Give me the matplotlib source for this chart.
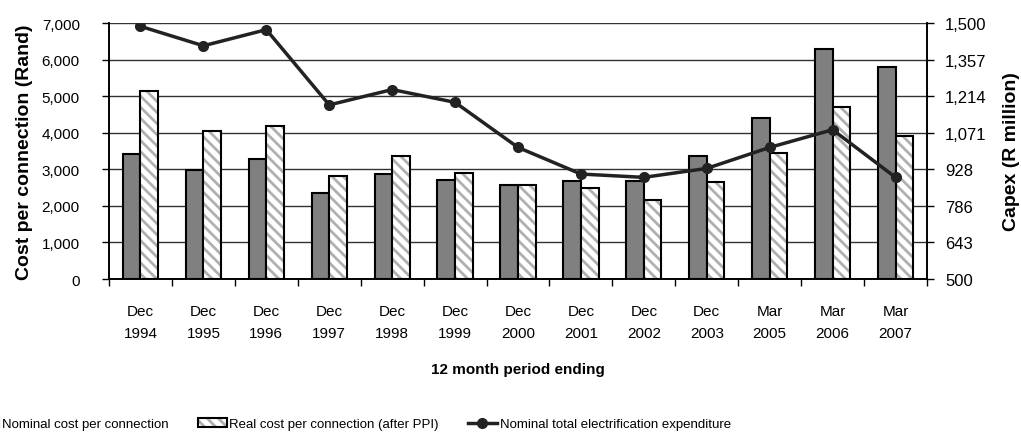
import numpy as np
import matplotlib
matplotlib.use("Agg")
import matplotlib.pyplot as plt
from matplotlib.legend_handler import HandlerTuple

plt.rcParams['font.family'] = ['Liberation Sans', 'DejaVu Sans']
plt.rcParams['hatch.linewidth'] = 2.0

# data
periods = ["Dec\n1994", "Dec\n1995", "Dec\n1996", "Dec\n1997", "Dec\n1998", "Dec\n1999",
           "Dec\n2000", "Dec\n2001", "Dec\n2002", "Dec\n2003", "Mar\n2005", "Mar\n2006", "Mar\n2007"]
nominal_cost = [3430, 2970, 3270, 2360, 2880, 2700, 2570, 2690, 2670, 3360, 4400, 6290, 5800]
real_cost = [5150, 4050, 4180, 2820, 3360, 2910, 2570, 2500, 2160, 2660, 3450, 4700, 3920]
capex = [1487, 1411, 1474, 1180, 1240, 1190, 1014, 910, 897, 932, 1014, 1083, 897]

left_ticks = [0, 1000, 2000, 3000, 4000, 5000, 6000, 7000]
right_ticks = np.linspace(500, 1500, 8)
right_labels = ["500", "643", "786", "928", "1,071", "1,214", "1,357", "1,500"]

W, H = 1021, 435
fig = plt.figure(figsize=(W / 100, H / 100), dpi=100)
ax = fig.add_axes([109 / W, 1 - 280 / H, 818 / W, 256 / H])
ax2 = ax.twinx()

x = np.arange(len(periods))
w = 0.28

# bars
b1 = ax.bar(x - w / 2, nominal_cost, w, color='#808080', edgecolor='black', linewidth=1.5, zorder=3)
b2 = ax.bar(x + w / 2, real_cost, w, color='white', edgecolor='#b0b0b0', linewidth=0,
            hatch='\\\\\\', zorder=3)
b2o = ax.bar(x + w / 2, real_cost, w, color='none', edgecolor='black', linewidth=1.5, zorder=3)

# line on secondary axis
ln, = ax2.plot(x, capex, color='#222222', linewidth=2.5, marker='o', markersize=7, zorder=4)

ax.set_xlim(-0.5, len(periods) - 0.5)
ax.set_ylim(0, 7000)
ax2.set_ylim(500, 1500)

ax.set_yticks(left_ticks)
ax.set_yticklabels([f"{v:,}" for v in left_ticks], fontsize=11)
ax.yaxis.grid(True, color='#333333', linewidth=1)
ax.set_axisbelow(True)
ax.tick_params(axis='y', direction='out', length=5, width=1, pad=16)

ax2.set_yticks(right_ticks)
ax2.set_yticklabels(right_labels, fontsize=12)
ax2.tick_params(axis='y', direction='out', length=5, width=1, pad=8)

# category ticks at boundaries, labels at centres
ax.set_xticks(np.arange(len(periods) + 1) - 0.5)
ax.set_xticklabels([])
ax.set_xticks(x, minor=True)
ax.set_xticklabels(periods, minor=True, fontsize=11, linespacing=1.75)
ax.tick_params(axis='x', which='major', direction='out', length=5, width=1)
ax.tick_params(axis='x', which='minor', length=0, pad=18)

for a in (ax, ax2):
    a.spines['top'].set_visible(False)
    for s in ('left', 'right', 'bottom'):
        a.spines[s].set_linewidth(1.2)

ax.set_ylabel("Cost per connection (Rand)", fontsize=14, fontweight='bold', labelpad=6)
ax2.set_ylabel("Capex (R million)", fontsize=14, fontweight='bold', labelpad=12)
ax.set_xlabel("12 month period ending", fontsize=11, fontweight='bold', labelpad=16)

leg_y = 1 - 425 / H
leg = fig.legend([b1, (b2, b2o), ln],
                 ["Nominal cost per connection", "Real cost per connection (after PPI)",
                  "Nominal total electrification expenditure"],
                 handler_map={tuple: HandlerTuple(ndivide=1, pad=0)},
                 loc='center left', bbox_to_anchor=(0, leg_y), ncol=3, frameon=False,
                 prop={'size': 9.5}, handlelength=2.2, columnspacing=2.2,
                 handletextpad=0.2)

# shift legend so its first text starts just inside the left edge (handle falls off, as in the original)
fig.canvas.draw()
r = fig.canvas.get_renderer()
x0 = leg.get_texts()[0].get_window_extent(r).x0
leg.set_bbox_to_anchor(((0 - x0 + 2) / W, leg_y), transform=fig.transFigure)

fig.savefig("out.png", dpi=100)
